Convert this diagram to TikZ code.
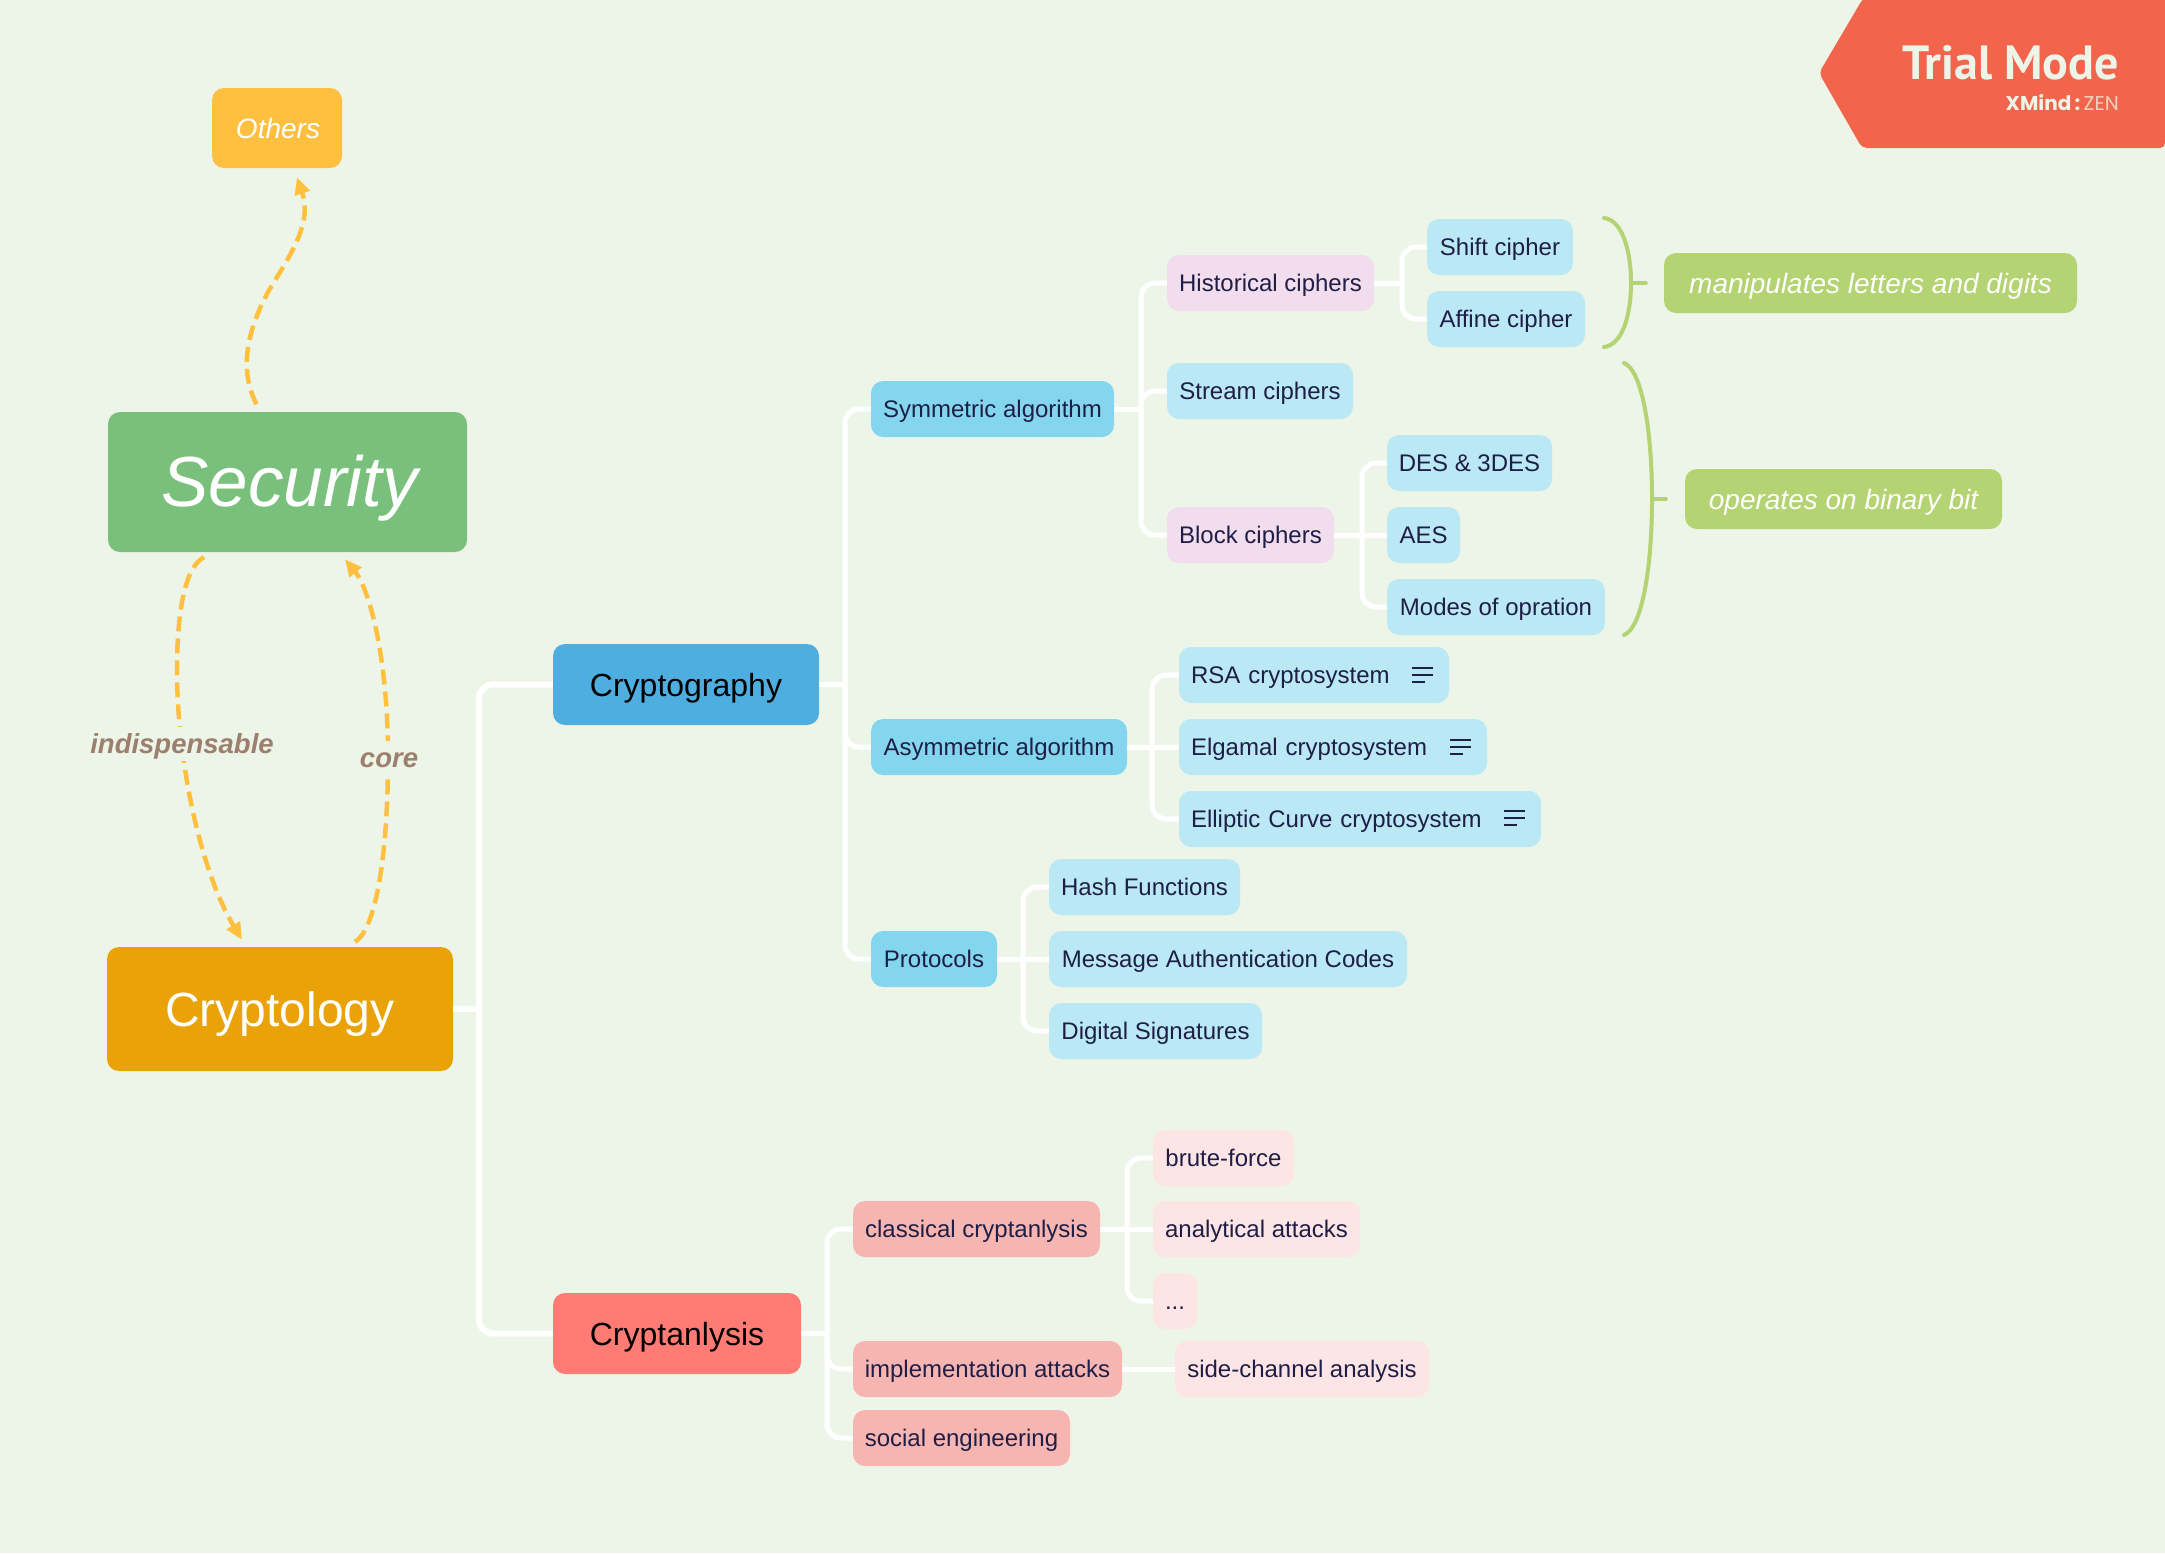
\documentclass[tikz,border=0pt]{standalone}
\usepackage{fontspec}
\setmainfont{Liberation Sans}
\newfontfamily\wmfont{PT Sans}
\newfontfamily\wmsmall{Poppins}
\usetikzlibrary{arrows.meta}
\definecolor{bg}{HTML}{EDF5E8}
\definecolor{trial}{HTML}{F2644B}
\definecolor{secgreen}{HTML}{78C07C}
\definecolor{cryorange}{HTML}{E9A308}
\definecolor{othyellow}{HTML}{FFC03F}
\definecolor{graphyblue}{HTML}{4FAEE0}
\definecolor{anared}{HTML}{FF7B73}
\definecolor{lvtwo}{HTML}{84D6EE}
\definecolor{lvthree}{HTML}{BBE8F5}
\definecolor{pinkbox}{HTML}{F2DDEE}
\definecolor{salmonbox}{HTML}{F7B5B1}
\definecolor{paleredbox}{HTML}{FDE5E6}
\definecolor{labgreen}{HTML}{B4D372}
\definecolor{darktext}{HTML}{1E1E46}
\definecolor{relbrown}{HTML}{9C7F6C}
\tikzset{
  boxbase/.style={rounded corners=12pt,inner sep=0pt,anchor=center},
  small/.style={boxbase,font=\fontsize{24}{29}\selectfont,text=darktext,text height=18pt,text depth=2pt},
  large/.style={boxbase,font=\fontsize{32}{38}\selectfont,text=black,text height=26pt,text depth=2pt},
  conn/.style={draw=white,line width=5pt,rounded corners=14pt},
  bracegreen/.style={draw=labgreen,line width=4pt,line cap=round},
  rel/.style={draw=othyellow,line width=4.5pt,dash pattern=on 15pt off 7pt,-{Triangle[length=17pt,width=15pt]}},
  rellabel/.style={fill=bg,inner xsep=2pt,inner ysep=0pt,text=relbrown,font=\fontsize{27.5}{33}\selectfont\bfseries\itshape,text height=26pt,text depth=8pt},
  labelgreen/.style={boxbase,fill=labgreen,text=white,font=\fontsize{28}{34}\selectfont\itshape,text height=22pt,text depth=1pt},
  notelines/.style={draw=darktext,line width=2pt},
}
\newcommand{\bx}[7][]{\node[#1,minimum width={(#4-#2)*1pt},minimum height={(#5-#3)*1pt}] (#6) at ({(#2+#4)/2},{(#3+#5)/2}) {#7};}
\newcommand{\cn}[4][]{\coordinate (tk) at (#4,0); \draw[conn,#1] (#2.east) -- (tk|-#2.east); \draw[conn,#1] (tk|-#2.east) -- (tk|-#3.west) -- (#3.west);}
\newcommand{\noteicon}[2]{\draw[notelines] (#1,#2) -- ++(21,0) (#1,#2+7) -- ++(21,0) (#1,#2+14) -- ++(13,0);}
\begin{document}
\begin{tikzpicture}[x=1pt,y=-1pt]
\path[use as bounding box,fill=bg] (0,0) rectangle (2165,1553);
% watermark
\fill[trial,rounded corners=5pt] (2165,-8) -- (2165,148) -- (1862,148) -- (1819,73) -- (1862,0) -- (1870,-8) -- cycle;
\node[anchor=base east,inner sep=0pt,text=bg,font=\wmfont\bfseries\fontsize{48}{58}\selectfont] (trialtext) at (2119,79) {Trial Mode};
\node[anchor=base east,inner sep=0pt,text=bg,font=\wmsmall\fontsize{20}{24}\selectfont] (xmindtext) at (2119,110) {\textbf{XMind\,:}\,\textcolor{bg!75!trial}{ZEN}};

% main nodes
\bx[boxbase,fill=othyellow,text=white,font=\fontsize{28}{34}\selectfont\itshape,text height=22pt,text depth=1pt]{212}{88}{342}{168}{oth}{\hspace{2pt}Others}
\bx[boxbase,fill=secgreen,text=white,font=\fontsize{71}{85}\selectfont\itshape,text height=54pt,text depth=6pt]{108}{412}{467}{552}{sec}{\hspace{4pt}Security}
\bx[boxbase,fill=cryorange,text=white,font=\fontsize{48}{58}\selectfont,text height=38pt,text depth=3pt]{107}{947}{453}{1071}{cry}{Cryptology}
\bx[large,fill=graphyblue]{553}{644}{819}{725}{graphy}{Cryptography}
\bx[large,fill=anared]{553}{1293}{801}{1374}{ana}{Cryptanlysis}

% level 2
\bx[small,fill=lvtwo]{871}{381}{1114}{437}{sym}{Symmetric algorithm}
\bx[small,fill=lvtwo]{871}{719}{1127}{775}{asym}{Asymmetric algorithm}
\bx[small,fill=lvtwo]{871}{931}{997}{987}{prot}{Protocols}
\bx[small,fill=salmonbox]{853}{1201}{1100}{1257}{classical}{classical cryptanlysis}
\bx[small,fill=salmonbox]{853}{1341}{1122}{1397}{impl}{implementation attacks}
\bx[small,fill=salmonbox]{853}{1410}{1070}{1466}{social}{social engineering}

% symmetric subtree
\bx[small,fill=pinkbox]{1167}{255}{1374}{311}{hist}{Historical ciphers}
\bx[small,fill=lvthree]{1167}{363}{1353}{419}{stream}{Stream ciphers}
\bx[small,fill=pinkbox]{1167}{507}{1334}{563}{block}{Block ciphers}
\bx[small,fill=lvthree]{1427}{219}{1573}{275}{shift}{Shift cipher}
\bx[small,fill=lvthree]{1427}{291}{1585}{347}{affine}{Affine cipher}
\bx[small,fill=lvthree]{1387}{435}{1552}{491}{des}{DES \& 3DES}
\bx[small,fill=lvthree]{1387}{507}{1460}{563}{aes}{AES}
\bx[small,fill=lvthree]{1387}{579}{1605}{635}{modes}{Modes of opration}

% asymmetric subtree
\bx[small,fill=lvthree,text width=246pt,align=left]{1179}{647}{1449}{703}{rsa}{RSA cryptosystem}
\bx[small,fill=lvthree,text width=284pt,align=left]{1179}{719}{1487}{775}{elg}{Elgamal cryptosystem}
\bx[small,fill=lvthree,text width=338pt,align=left]{1179}{791}{1541}{847}{ell}{Elliptic Curve cryptosystem}
\noteicon{1412}{668}
\noteicon{1450}{740}
\noteicon{1504}{811}

% protocols subtree
\bx[small,fill=lvthree]{1049}{859}{1240}{915}{hash}{Hash Functions}
\bx[small,fill=lvthree]{1049}{931}{1407}{987}{mac}{Message Authentication Codes}
\bx[small,fill=lvthree]{1049}{1003}{1262}{1059}{dsig}{Digital Signatures}

% cryptanalysis subtree
\bx[small,fill=paleredbox]{1153}{1130}{1294}{1186}{brute}{brute-force}
\bx[small,fill=paleredbox]{1153}{1201}{1360}{1257}{analyt}{analytical attacks}
\bx[small,fill=paleredbox]{1153}{1273}{1197}{1329}{dots}{...}
\bx[small,fill=paleredbox]{1175}{1341}{1429}{1397}{side}{side-channel analysis}

% green labels
\bx[labelgreen]{1664}{253}{2077}{313}{manip}{manipulates letters and digits}
\bx[labelgreen]{1685}{469}{2002}{529}{binbit}{operates on binary bit}

% tree connectors
\cn[line width=6pt]{cry}{graphy}{479}
\cn[line width=6pt]{cry}{ana}{479}
\cn{graphy}{sym}{845}
\cn{graphy}{asym}{845}
\cn{graphy}{prot}{845}
\cn{sym}{hist}{1141}
\cn{sym}{stream}{1141}
\cn{sym}{block}{1141}
\cn{hist}{shift}{1402}
\cn{hist}{affine}{1402}
\cn{block}{des}{1362}
\draw[conn] (block.east) -- (aes.west);
\cn{block}{modes}{1362}
\cn{asym}{rsa}{1152}
\draw[conn] (asym.east) -- (elg.west);
\cn{asym}{ell}{1152}
\cn{prot}{hash}{1023}
\draw[conn] (prot.east) -- (mac.west);
\cn{prot}{dsig}{1023}
\cn{ana}{classical}{827}
\cn{ana}{impl}{827}
\cn{ana}{social}{827}
\cn{classical}{brute}{1127}
\draw[conn] (classical.east) -- (analyt.west);
\cn{classical}{dots}{1127}
\draw[conn] (impl.east) -- (side.west);

% braces
\draw[bracegreen] (1604,218) .. controls (1622,220) and (1631,250) .. (1631,283) .. controls (1631,316) and (1622,345) .. (1604,347);
\draw[bracegreen] (1631,283) -- ([xshift=-18pt]manip.west);
\draw[bracegreen] (1624,363) .. controls (1642,370) and (1652,430) .. (1652,499) .. controls (1652,568) and (1642,628) .. (1624,635);
\draw[bracegreen] (1652,499) -- ([xshift=-19pt]binbit.west);

% relationships
\draw[rel] ([xshift=-31pt,yshift=7.5pt]sec.north) .. controls (240,372) and (245,335) .. (268,292) .. controls (288,258) and (313,225) .. ([xshift=20pt,yshift=-9pt]oth.south);
\draw[rel] ([xshift=-83.5pt,yshift=-5pt]sec.south) .. controls (183,568) and (177,620) .. (177,670) .. controls (177,760) and (200,870) .. ([xshift=-38pt,yshift=7pt]cry.north);
\draw[rel] ([xshift=75pt,yshift=5pt]cry.north) .. controls (375,930) and (388,860) .. (388,756) .. controls (388,660) and (370,590) .. ([xshift=57.5pt,yshift=-7pt]sec.south);
\node[rellabel] (lblind) at (182,744) {indispensable};
\node[rellabel] (lblcore) at (389,758) {core};
\end{tikzpicture}
\end{document}
